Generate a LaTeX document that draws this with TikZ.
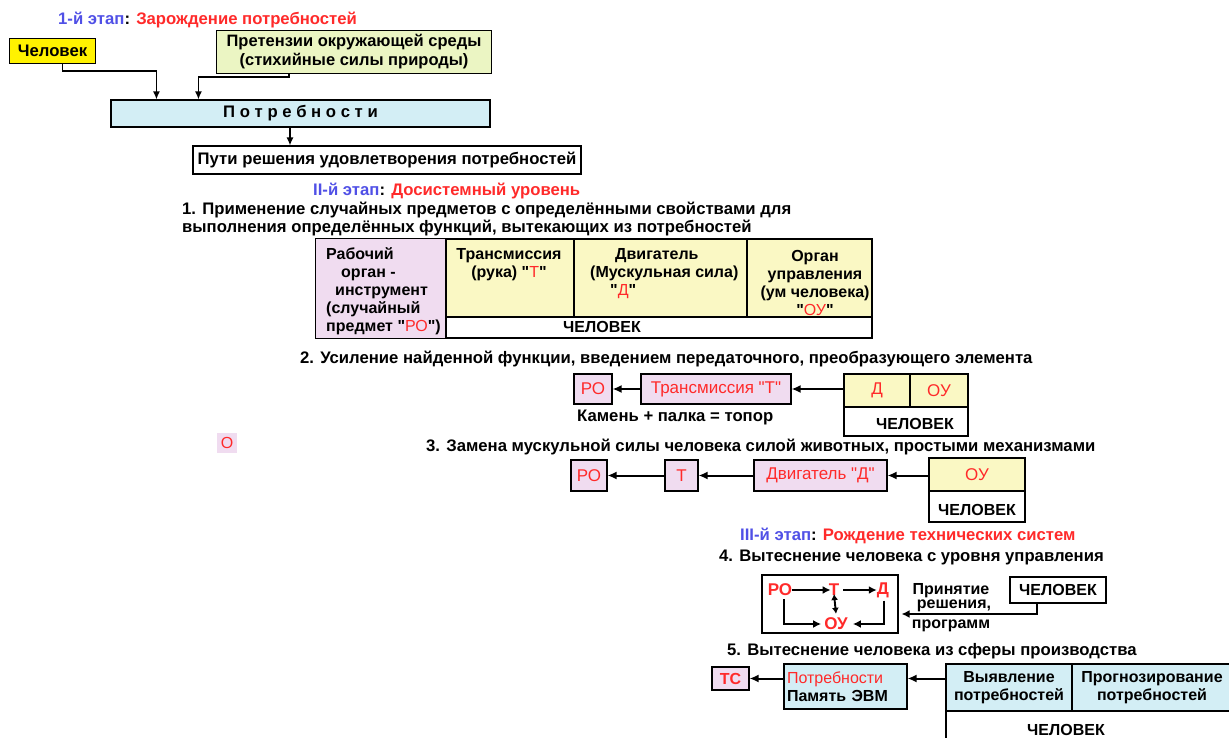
\documentclass[tikz,border=0pt]{standalone}
\usepackage{fontspec}
\setmainfont{Liberation Sans}[Ligatures=TeXOff]
\usetikzlibrary{arrows.meta}

\definecolor{stageblue}{HTML}{5050E6}
\definecolor{stagered}{HTML}{FF2A2A}
\definecolor{pinkfill}{HTML}{F0DCF0}
\definecolor{yellowfill}{HTML}{FAF8C4}
\definecolor{greenfill}{HTML}{EBF5C3}
\definecolor{bluefill}{HTML}{D3EEF5}
\newcommand{\rd}[1]{{\color{stagered}\mdseries #1}}

\begin{document}
\begin{tikzpicture}[x=1pt, y=-1pt,
    box/.style={draw, line width=1.1pt, inner sep=0pt},
    txt/.style={font=\bfseries\fontsize{16.7}{18}\selectfont, inner sep=0pt, align=center},
    ttxt/.style={font=\bfseries\fontsize{16}{18}\selectfont, inner sep=0pt},
    rtxt/.style={font=\fontsize{17}{18}\selectfont, text=stagered, inner sep=0pt},
    arr/.style={line width=1.4pt, -{Latex[length=8pt,width=7pt]}},
    arrm/.style={line width=1.9pt, -{Latex[length=8pt,width=8pt]}},
    arrb/.style={line width=2pt, -{Latex[length=9pt,width=8pt]}}]
    \useasboundingbox (0,0) rectangle (1229,738);

    \node[txt, anchor=west] (st1) at (58,20) {\color{stageblue}1-й этап\color{black}: \color{stagered}Зарождение потребностей};
    \node[box, txt, fill=yellow, minimum width=86, minimum height=25] (chel) at (52.5,51) {Человек};
    \node[box, txt, fill=greenfill, minimum width=275, minimum height=43, font=\bfseries\fontsize{16.5}{19}\selectfont] (pret) at (354,52) {Претензии окружающей среды\\(стихийные силы природы)};
    \node[box, txt, fill=bluefill, minimum width=379, minimum height=27] (potr) at (300.5,113.5) {П о т р е б н о с т и};
    \node[box, txt, minimum width=388, minimum height=28] (puti) at (387,160) {Пути решения удовлетворения потребностей};

    \draw[arr] ([xshift=10pt]chel.south) -- ++(0,7) -| ([xshift=46pt]potr.north west);
    \draw[arr] ([xshift=73pt]pret.south west) -- ++(0,3) -| ([xshift=88pt]potr.north west);
    \draw[arr] ([xshift=-10.5pt]potr.south) -- ([xshift=-10.5pt]potr.south |- puti.north);

    \node[txt, anchor=west] (st2) at (313,191) {\color{stageblue}II-й этап\color{black}: \color{stagered}Досистемный уровень};
    \node[txt, anchor=west, align=left] (it1) at (182,219) {1. Применение случайных предметов с определёнными свойствами для\\выполнения определённых функций, вытекающих из потребностей};

    \node[box, fill=pinkfill, minimum width=131, minimum height=100] (ro1) at (381,288.5) {};
    \node[box, fill=yellowfill, minimum width=128, minimum height=78] (tr1) at (510,278) {};
    \node[box, fill=yellowfill, minimum width=173, minimum height=78] (dv1) at (660.5,278) {};
    \node[box, fill=yellowfill, minimum width=125, minimum height=78] (ou1) at (809.5,278) {};
    \node[box, minimum width=426, minimum height=21] (chel1) at (659,327.5) {};
    \node[ttxt, anchor=west, align=left] (ro1t) at (326,291.5) {Рабочий\\\hspace{15pt}орган -\\\hspace{9pt}инструмент\\(случайный\\предмет "\rd{РО}")};
    \node[ttxt, align=center] (tr1t) at (509,265) {Трансмиссия\\(рука) "\rd{Т}"};
    \node[ttxt, anchor=west, align=left] (dv1t) at (590,274) {\hspace{25pt}Двигатель\\(Мускульная сила)\\\hspace{20pt}"\rd{Д}"};
    \node[ttxt, align=center] (ou1t) at (815,282.5) {Орган\\управления\\(ум человека)\\"\rd{ОУ}"};
    \node[ttxt] (chel1t) at (602,327) {ЧЕЛОВЕК};

    \node[txt, anchor=west] (it2) at (300,359) {2. Усиление найденной функции, введением передаточного, преобразующего элемента};
    \node[box, rtxt, fill=pinkfill, minimum width=38, minimum height=30] (ro2) at (593,389) {РО};
    \node[box, rtxt, fill=pinkfill, minimum width=150, minimum height=30] (tr2) at (716,389) {Трансмиссия "Т"};
    \node[box, rtxt, fill=yellowfill, minimum width=66, minimum height=33] (d2) at (877,390.5) {Д};
    \node[box, rtxt, fill=yellowfill, minimum width=58, minimum height=33] (ou2) at (939,390.5) {ОУ};
    \node[box, minimum width=124, minimum height=29] (chel2) at (906,421.5) {};
    \node[ttxt] (chel2t) at (915,424) {ЧЕЛОВЕК};
    \node[txt, anchor=west] (kam) at (577,417) {Камень + палка = топор};
    \draw[arrb] (d2.west |- tr2) -- (tr2.east);
    \draw[arrb] (tr2.west) -- (ro2.east);

    \node[fill=pinkfill, minimum size=20, inner sep=0pt, text=stagered, font=\fontsize{16}{16}\selectfont] (osq) at (227,443) {О};

    \node[txt, anchor=west] (it3) at (426,447) {3. Замена мускульной силы человека силой животных, простыми механизмами};
    \node[box, rtxt, fill=pinkfill, minimum width=36, minimum height=31] (ro3) at (589,475.5) {РО};
    \node[box, rtxt, fill=pinkfill, minimum width=33, minimum height=31] (t3) at (681.5,475.5) {Т};
    \node[box, rtxt, fill=pinkfill, minimum width=133, minimum height=31] (dv3) at (820.5,475.5) {Двигатель "Д"};
    \node[box, rtxt, fill=yellowfill, minimum width=96, minimum height=33] (ou3) at (977,474.5) {ОУ};
    \node[box, minimum width=96, minimum height=31] (chel3) at (977,506.5) {};
    \node[ttxt] (chel3t) at (977,510) {ЧЕЛОВЕК};
    \draw[arrb] (ou3.west |- dv3) -- (dv3.east);
    \draw[arrb] (dv3.west) -- (t3.east);
    \draw[arrb] (t3.west) -- (ro3.east);

    \node[txt, anchor=west] (st3) at (740,536) {\color{stageblue}III-й этап\color{black}: \color{stagered}Рождение технических систем};
    \node[txt, anchor=west] (it4) at (719,557) {4. Вытеснение человека с уровня управления};
    \node[box, minimum width=136, minimum height=58] (frame4) at (830,604) {};
    \node[rtxt, font=\bfseries\fontsize{17}{18}\selectfont] (ro4) at (780,590) {РО};
    \node[rtxt, font=\bfseries\fontsize{17}{18}\selectfont] (t4) at (834,590) {Т};
    \node[rtxt, font=\bfseries\fontsize{17}{18}\selectfont] (d4) at (883,590) {Д};
    \node[rtxt, font=\bfseries\fontsize{17}{18}\selectfont] (ou4) at (836,624) {ОУ};
    \draw[arrm] (ro4.east) -- ([xshift=2pt]t4.west);
    \draw[arrm] ([xshift=4pt]t4.east) -- (d4.west);
    \draw[line width=1.9pt, {Latex[length=6pt,width=7pt]}-{Latex[length=6pt,width=7pt]}] ([yshift=2pt]t4.south) -- ([yshift=4pt]ou4.north);
    \draw[arrm] ([xshift=4pt,yshift=-3pt]ro4.south) |- ([xshift=-3pt]ou4.west);
    \draw[arrm] ([xshift=1pt,yshift=-3pt]d4.south) |- ([xshift=5pt]ou4.east);
    \node[txt, font=\bfseries\fontsize{16}{14}\selectfont] (prin) at (951,598) {Принятие\\\hspace{6pt}решения,};
    \node[txt, font=\bfseries\fontsize{16}{14}\selectfont] (prog) at (951,626) {программ};
    \node[box, ttxt, minimum width=96, minimum height=26] (chel4) at (1058,590) {ЧЕЛОВЕК};
    \draw[arrm] ([xshift=-21pt]chel4.south) |- ([xshift=3pt,yshift=-10pt]frame4.east);

    \node[txt, anchor=west] (it5) at (727,651) {5. Вытеснение человека из сферы производства};
    \node[box, ttxt, text=stagered, fill=pinkfill, minimum width=37, minimum height=23] (tc5) at (730.5,678.5) {ТС};
    \node[box, ttxt, fill=bluefill, minimum width=123, minimum height=45, align=left, text width=117] (potr5) at (845.5,686.5) {\rd{Потребности}\\Память ЭВМ};
    \node[box, ttxt, fill=bluefill, minimum width=126, minimum height=47, align=center] (vy5) at (1009,687.5) {Выявление\\потребностей};
    \node[box, ttxt, fill=bluefill, minimum width=168, minimum height=47, align=center] (pr5) at (1156,687.5) {};
    \node[ttxt, align=center] (pr5t) at (1152,687.5) {Прогнозирование\\потребностей};
    \node[box, minimum width=294, minimum height=49] (chel5) at (1093,735.5) {};
    \node[ttxt] (chel5t) at (1066,730) {ЧЕЛОВЕК};
    \draw[arrb] (vy5.west |- tc5) -- (potr5.east |- tc5);
    \draw[arrb] (potr5.west |- tc5) -- (tc5.east);
\end{tikzpicture}
\end{document}
